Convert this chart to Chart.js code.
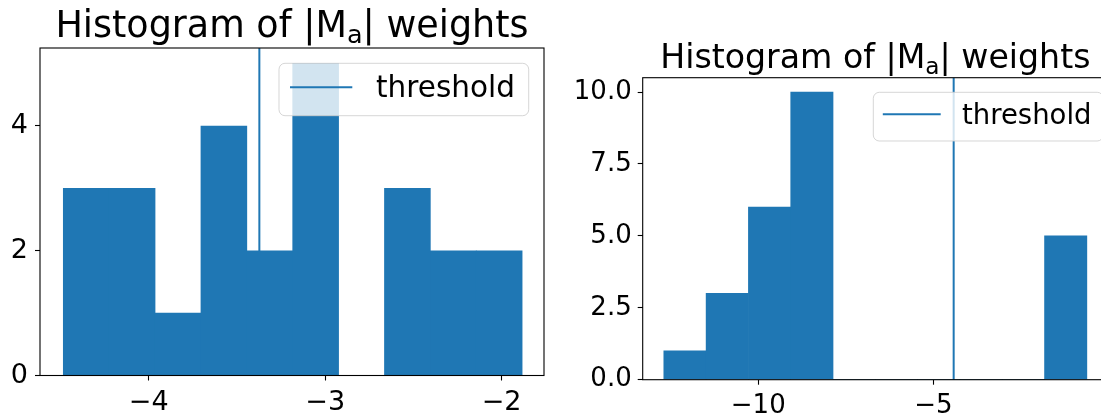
<!DOCTYPE html>
<html>
<head>
<meta charset="utf-8">
<script src="https://cdn.jsdelivr.net/npm/chart.js@4/dist/chart.umd.min.js"></script>
<style>
  html, body { margin: 0; padding: 0; background: #fff; overflow: hidden; width: 1101px; height: 414px; }
  .panel { position: absolute; top: 0; }
  #panelL { left: 0; }
  #panelR { left: 560px; }
</style>
</head>
<body>
<div class="panel" id="panelL"><canvas id="histL" width="560" height="414"></canvas></div>
<div class="panel" id="panelR"><canvas id="histR" width="560" height="414"></canvas></div>
<script>
// ---- data: left histogram ----
const leftEdges = [-4.484, -4.224, -3.964, -3.704, -3.444, -3.184, -2.924, -2.664, -2.404, -2.144, -1.884];
const leftCounts = [3, 3, 1, 4, 2, 5, 0, 3, 2, 2];
const leftThreshold = -3.373;
const leftXRange = [-4.616, -1.760];
const leftYRange = [0, 5.25];
const leftXTicks = [-4, -3, -2];
const leftYTicks = [0, 2, 4];

// ---- data: right histogram ----
const rightEdges = [-12.697, -11.489, -10.281, -9.073, -7.865, -6.657, -5.449, -4.241, -3.033, -1.825, -0.617];
const rightCounts = [1, 3, 6, 10, 0, 0, 0, 0, 0, 5];
const rightThreshold = -4.42;
const rightXRange = [-13.30, -0.013];
const rightYRange = [0, 10.5];
const rightXTicks = [-10, -5];
const rightYTicks = [0, 2.5, 5, 7.5, 10];

// ---- shared text ----
const titleMain = 'Histogram of |M';
const titleSub = 'a';
const titleTail = '| weights';
const legendLabel = 'threshold';

const BLUE = '#1f77b4';
const FONT = "'DejaVu Sans', sans-serif";

function minus(s) { return String(s).replace('-', '\u2212'); }

// axes frame (all four spines)
const framePlugin = {
  id: 'frame',
  afterDatasetsDraw(chart) {
    const { ctx, chartArea: a } = chart;
    ctx.save();
    ctx.strokeStyle = '#000';
    ctx.lineWidth = 1.1;
    ctx.strokeRect(a.left, a.top, a.right - a.left, a.bottom - a.top);
    ctx.restore();
  }
};

// boxed legend with a semi-transparent face
const boxLegendPlugin = {
  id: 'boxLegend',
  afterDatasetsDraw(chart, args, o) {
    const ctx = chart.ctx;
    const ds = chart.data.datasets.find(d => d.type === 'line');
    ctx.save();
    ctx.beginPath();
    ctx.roundRect(o.x, o.y, o.w, o.h, o.r);
    ctx.fillStyle = 'rgba(255,255,255,0.8)';
    ctx.fill();
    ctx.strokeStyle = 'rgba(204,204,204,0.8)';
    ctx.lineWidth = 1;
    ctx.stroke();
    ctx.beginPath();
    ctx.moveTo(o.lineX0, o.lineY);
    ctx.lineTo(o.lineX1, o.lineY);
    ctx.strokeStyle = ds.borderColor;
    ctx.lineWidth = ds.borderWidth;
    ctx.stroke();
    ctx.fillStyle = '#000';
    ctx.font = o.size + 'px ' + FONT;
    ctx.textAlign = 'left';
    ctx.textBaseline = 'alphabetic';
    ctx.fillText(ds.label, o.textX, o.textY);
    ctx.restore();
  }
};

// title with a subscript, centred over the axes
const subTitlePlugin = {
  id: 'subTitle',
  afterDraw(chart, args, o) {
    const { ctx, chartArea: a } = chart;
    const F = o.size, f = F * 0.7;
    ctx.save();
    ctx.fillStyle = '#000';
    ctx.textBaseline = 'alphabetic';
    ctx.textAlign = 'left';
    ctx.font = F + 'px ' + FONT;
    const w1 = ctx.measureText(titleMain).width;
    const w3 = ctx.measureText(titleTail).width;
    ctx.font = f + 'px ' + FONT;
    const w2 = ctx.measureText(titleSub).width;
    let x = (a.left + a.right) / 2 - (w1 + w2 + w3) / 2;
    ctx.font = F + 'px ' + FONT;
    ctx.fillText(titleMain, x, o.baseline);
    x += w1;
    ctx.font = f + 'px ' + FONT;
    ctx.fillText(titleSub, x, o.baseline + F * 0.17);
    x += w2;
    ctx.font = F + 'px ' + FONT;
    ctx.fillText(titleTail, x, o.baseline);
    ctx.restore();
  }
};

function makeHist(canvasId, cfg) {
  const bars = cfg.counts.map((c, i) => ({ x: (cfg.edges[i] + cfg.edges[i + 1]) / 2, y: c }));
  const vline = [{ x: cfg.threshold, y: cfg.yRange[0] }, { x: cfg.threshold, y: cfg.yRange[1] }];
  const gridOpts = { display: true, offset: false, drawOnChartArea: false, drawTicks: true, tickLength: 5, tickColor: '#000', tickWidth: 1.1 };
  return new Chart(document.getElementById(canvasId), {
    type: 'bar',
    data: {
      datasets: [
        { type: 'line', label: legendLabel, data: vline, borderColor: BLUE, borderWidth: 2, pointRadius: 0, order: 2, fill: false },
        { type: 'bar', label: 'counts', data: bars, backgroundColor: BLUE, borderWidth: 0, barPercentage: 1, categoryPercentage: 1, order: 1 }
      ]
    },
    options: {
      responsive: false,
      animation: false,
      devicePixelRatio: 1,
      layout: { padding: cfg.padding },
      plugins: {
        legend: { display: false },
        title: { display: false },
        tooltip: { enabled: false },
        boxLegend: cfg.legend,
        subTitle: cfg.title
      },
      scales: {
        x: {
          type: 'linear', min: cfg.xRange[0], max: cfg.xRange[1], offset: false,
          grid: gridOpts, border: { display: false },
          ticks: { color: '#000', font: { family: FONT, size: cfg.tickSize }, padding: cfg.xPad, maxRotation: 0, autoSkip: false,
                   callback: v => minus(v) },
          afterBuildTicks: s => { s.ticks = cfg.xTicks.map(v => ({ value: v })); },
          afterFit: s => { s.height = cfg.xAxisHeight; }
        },
        y: {
          type: 'linear', min: cfg.yRange[0], max: cfg.yRange[1],
          grid: gridOpts, border: { display: false },
          ticks: { color: '#000', font: { family: FONT, size: cfg.tickSize }, padding: cfg.yPad, autoSkip: false,
                   callback: v => cfg.yFmt(v) },
          afterBuildTicks: s => { s.ticks = cfg.yTicks.map(v => ({ value: v })); },
          afterFit: s => { s.width = cfg.yAxisWidth; }
        }
      }
    },
    plugins: [framePlugin, boxLegendPlugin, subTitlePlugin]
  });
}

makeHist('histL', {
  edges: leftEdges, counts: leftCounts, threshold: leftThreshold,
  xRange: leftXRange, yRange: leftYRange, xTicks: leftXTicks, yTicks: leftYTicks,
  yFmt: v => String(v),
  tickSize: 27, xPad: 6, yPad: 7,
  xAxisHeight: 38.5, yAxisWidth: 40,
  padding: { top: 48, right: 16, left: 0, bottom: 0 },
  legend: { x: 279, y: 63.3, w: 249.7, h: 52.4, r: 6, lineX0: 290, lineX1: 352.3, lineY: 87.3, textX: 376, textY: 96.7, size: 29.5 },
  title: { size: 36.5, baseline: 36.7 }
});

makeHist('histR', {
  edges: rightEdges, counts: rightCounts, threshold: rightThreshold,
  xRange: rightXRange, yRange: rightYRange, xTicks: rightXTicks, yTicks: rightYTicks,
  yFmt: v => v.toFixed(1),
  tickSize: 26, xPad: 6, yPad: 6,
  xAxisHeight: 34.3, yAxisWidth: 82.7,
  padding: { top: 77.7, right: 12, left: 0, bottom: 0 },
  legend: { x: 313.3, y: 92.3, w: 229.9, h: 48.7, r: 6, lineX0: 322.8, lineX1: 380.7, lineY: 114.3, textX: 402, textY: 124, size: 27.5 },
  title: { size: 33.2, baseline: 68.3 }
});
</script>
</body>
</html>
